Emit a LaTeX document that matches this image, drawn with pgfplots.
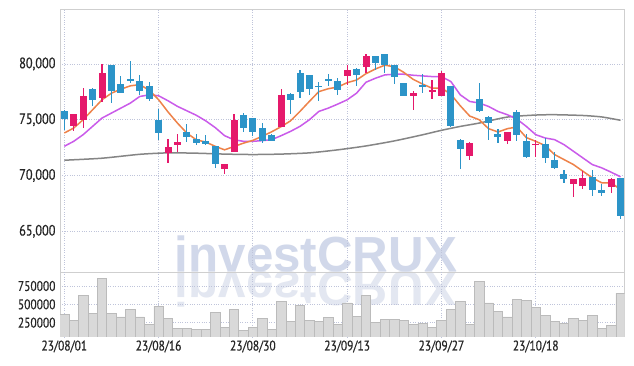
\documentclass[border=0pt]{standalone}
\usepackage{pgfplots}
\pgfplotsset{compat=1.18}
\usepackage{pgfplotstable}
\usepackage{graphicx}
\usepackage{fontspec}
\setmainfont{PT Sans}[FakeStretch=0.82, FakeBold=0.6]
\newfontfamily\wmfont{Liberation Sans}

\definecolor{upred}{HTML}{E5196B}
\definecolor{downblue}{HTML}{2C94C8}
\definecolor{maorange}{HTML}{EE8249}
\definecolor{mapurple}{HTML}{CA5BEA}
\definecolor{magray}{HTML}{858585}
\definecolor{gridc}{HTML}{BFC4DA}
\definecolor{framec}{HTML}{CFCFCF}
\definecolor{wmc}{HTML}{D1D8EA}
\definecolor{wmc2}{HTML}{E3E7F1}
\definecolor{volfill}{HTML}{D9D9D9}
\definecolor{voledge}{HTML}{BBBBBB}

% up (red) candles: index open high low close
\pgfplotstableread{
i o h l c
1 74405 75550 74020 75536
2 74940 77830 74257 77143
4 76905 80000 76548 79226
11 72024 73304 71131 72590
12 72709 73721 72113 73006
17 70596 71071 70150 71071
18 72084 75506 72084 75000
23 74316 77738 74316 77232
30 78958 79911 78125 79464
32 79762 80893 79226 80714
37 77083 77619 75834 77440
39 77530 78571 76845 77649
40 77083 79375 77083 79167
43 71726 73006 71429 72917
47 73066 73899 72827 73899
50 72738 73214 71667 72857
54 69256 69732 68066 69732
55 69048 70387 68810 69792
58 68958 69732 68452 69732
}\redtab

% down (blue) candles
\pgfplotstableread{
i o h l c
0 75800 75900 74100 75100
3 77768 77830 76250 76726
5 79940 79940 76488 77589
6 78214 78929 77381 77440
7 78661 80238 78274 78482
8 78512 79018 77202 77619
9 78036 78363 76697 76816
10 75000 75953 73155 73780
13 73929 74613 73006 73423
14 73304 73720 72768 72887
15 73100 73660 72710 72860
16 72620 72680 70685 71013
19 75447 75596 73899 74227
20 75149 75149 73512 73870
21 74286 74703 72917 73125
22 73631 73720 73070 73125
24 77351 77411 75506 76786
25 79226 79464 76935 77530
26 79018 79018 77202 77798
27 78036 78423 76697 77947
28 78661 79107 78036 78542
29 78512 78720 77232 77679
31 79554 79673 78036 79048
33 80714 80714 79464 80119
34 80893 80893 79167 79911
35 79911 79911 78185 78869
36 78274 78274 77083 77173
38 78095 79077 77381 77976
41 78036 78036 74316 74464
42 73214 73274 70596 72351
44 76875 78274 75655 75744
45 75238 75298 73214 74702
46 73750 74167 72917 73423
48 75685 75833 73125 73601
49 73125 73750 71577 71637
51 72827 73363 71131 71548
52 71369 72083 70595 70655
53 70179 70536 69345 69702
56 69851 70536 68155 68690
57 68661 69196 68155 68452
59 69821 69821 66071 66369
}\bluetab

% moving averages
\pgfplotstableread{
i ma5 ma20
0 73810 72619
1 74256 73066
2 75000 73661
3 75893 74405
4 76786 75149
5 77381 75595
6 77738 76042
7 78036 76488
8 78150 77083
9 77650 77232
10 76800 77150
11 75700 76700
12 74700 76200
13 73800 75800
14 73200 75400
15 73000 74900
16 72619 74300
17 72300 73570
18 72600 73200
19 72900 73066
20 73150 73066
21 73520 73125
22 73920 73214
23 74380 73571
24 74900 73958
25 75750 74405
26 76650 75000
27 77520 75744
28 77780 76042
29 77930 76400
30 78320 76786
31 78560 77381
32 79130 78363
33 79550 78720
34 79890 79018
35 79750 79077
36 79250 79077
37 78620 78988
38 78200 78929
39 77827 78869
40 77850 78869
41 77280 78423
42 76250 77232
43 75330 76637
44 75000 76500
45 74200 76190
46 73900 75744
47 74200 75446
48 74350 75060
49 73400 74405
50 73066 73661
51 72679 73363
52 71875 73214
53 71429 72768
54 70982 72173
55 70387 71577
56 69792 70982
57 69345 70685
58 69345 70298
59 68750 69881
}\matab

\pgfplotstableread{
i ma
0 71370
4 71550
8 71900
11 72030
14 72000
17 71920
20 71880
23 71920
26 72030
29 72300
32 72650
35 73100
38 73650
40 74050
42 74400
44 74700
47 75240
50 75420
52 75450
55 75380
57 75250
59 74950
}\graytab

% volume
\pgfplotstableread{
i v
0 363600
1 281800
2 622700
3 377300
4 854500
5 377300
6 327300
7 431800
8 327300
9 231800
10 472700
11 309100
12 172700
13 172700
14 159100
15 159100
16 390900
17 190900
18 431800
19 145500
20 190900
21 309100
22 159100
23 540900
24 268200
25 486400
26 281800
27 268200
28 322700
29 231800
30 518200
31 340900
32 622700
33 259100
34 295500
35 295500
36 281800
37 231800
38 240900
39 190900
40 281800
41 431800
42 540900
43 231800
44 813600
45 518200
46 404500
47 327300
48 568200
49 554500
50 459100
51 354500
52 268200
53 240900
54 309100
55 281800
56 354500
57 172700
58 213600
59 650000
}\voltab

\newcommand\wmtext{\resizebox{282pt}{!}{\wmfont\bfseries investCRUX}}

\begin{document}
\begin{tikzpicture}
\path[use as bounding box, fill=white] (0,0) rectangle (634pt,366pt);

% watermark and its reflection
\node[anchor=base, text=wmc2, inner sep=0pt] at (316pt,94pt) {\scalebox{1}[-1]{\wmtext}};
\node[anchor=base, text=wmc, inner sep=0pt] at (316pt,94pt) {\wmtext};

\pgfplotsset{
  every axis/.append style={
    scale only axis,
    xmin=-0.456, xmax=59.44,
    major tick length=0pt,
    grid=major,
    grid style={gridc, dotted, line width=0.8pt},
    xtick={0,10,20,30,40,50},
    scaled y ticks=false, scaled x ticks=false,
  },
}

% price panel
\begin{axis}[
  at={(60pt,94pt)}, anchor=south west,
  width=564.7pt, height=262.7pt,
  ymin=61350, ymax=84900,
  xticklabels={},
  ytick={65000,70000,75000,80000},
  yticklabels={{65,000},{70,000},{75,000},{80,000}},
  axis line style={framec, line width=0.8pt},
  yticklabel style={font=\fontsize{15}{15}\selectfont, text=black!85, xshift=-1pt},
]
% gray long MA
\addplot[magray, line width=1.5pt, smooth, tension=0.4, mark=none] table[x=i, y=ma] \graytab;
% purple MA
\addplot[mapurple, line width=1.5pt, mark=none] table[x=i, y=ma20] \matab;
% orange MA
\addplot[maorange, line width=1.5pt, mark=none] table[x=i, y=ma5] \matab;

% wicks
\addplot[draw=none, mark=none,
  error bars/.cd, y dir=both, y explicit, error mark=none,
  error bar style={draw=upred, line width=1.2pt, solid}]
  table[x=i, y expr={(\thisrow{h}+\thisrow{l})/2}, y error expr={(\thisrow{h}-\thisrow{l})/2}] \redtab;
\addplot[draw=none, mark=none,
  error bars/.cd, y dir=both, y explicit, error mark=none,
  error bar style={draw=downblue, line width=1.2pt, solid}]
  table[x=i, y expr={(\thisrow{h}+\thisrow{l})/2}, y error expr={(\thisrow{h}-\thisrow{l})/2}] \bluetab;
% bodies
\addplot[draw=none, mark=none,
  error bars/.cd, y dir=both, y explicit, error mark=none,
  error bar style={draw=upred, line width=7pt, solid}]
  table[x=i, y expr={(\thisrow{o}+\thisrow{c})/2}, y error expr={max(abs(\thisrow{c}-\thisrow{o})/2,60)}] \redtab;
\addplot[draw=none, mark=none,
  error bars/.cd, y dir=both, y explicit, error mark=none,
  error bar style={draw=downblue, line width=7pt, solid}]
  table[x=i, y expr={(\thisrow{o}+\thisrow{c})/2}, y error expr={max(abs(\thisrow{c}-\thisrow{o})/2,60)}] \bluetab;
\end{axis}

% volume panel
\begin{axis}[
  at={(60pt,29pt)}, anchor=south west,
  width=564.7pt, height=65pt,
  ymin=54600, ymax=941000,
  ytick={250000,500000,750000},
  yticklabels={250000,500000,750000},
  xticklabels={23/08/01,23/08/16,23/08/30,23/09/13,23/09/27,23/10/18},
  separate axis lines,
  x axis line style={draw=none},
  y axis line style={framec, line width=0.8pt},
  yticklabel style={font=\fontsize{14}{14}\selectfont, text=black!85, xshift=-1pt},
  xticklabel style={font=\fontsize{14}{14}\selectfont, text=black!85},
]
\addplot[ybar, bar width=1, fill=volfill, draw=voledge, line width=0.6pt] table[x=i, y=v] \voltab;
\end{axis}
\end{tikzpicture}
\end{document}
